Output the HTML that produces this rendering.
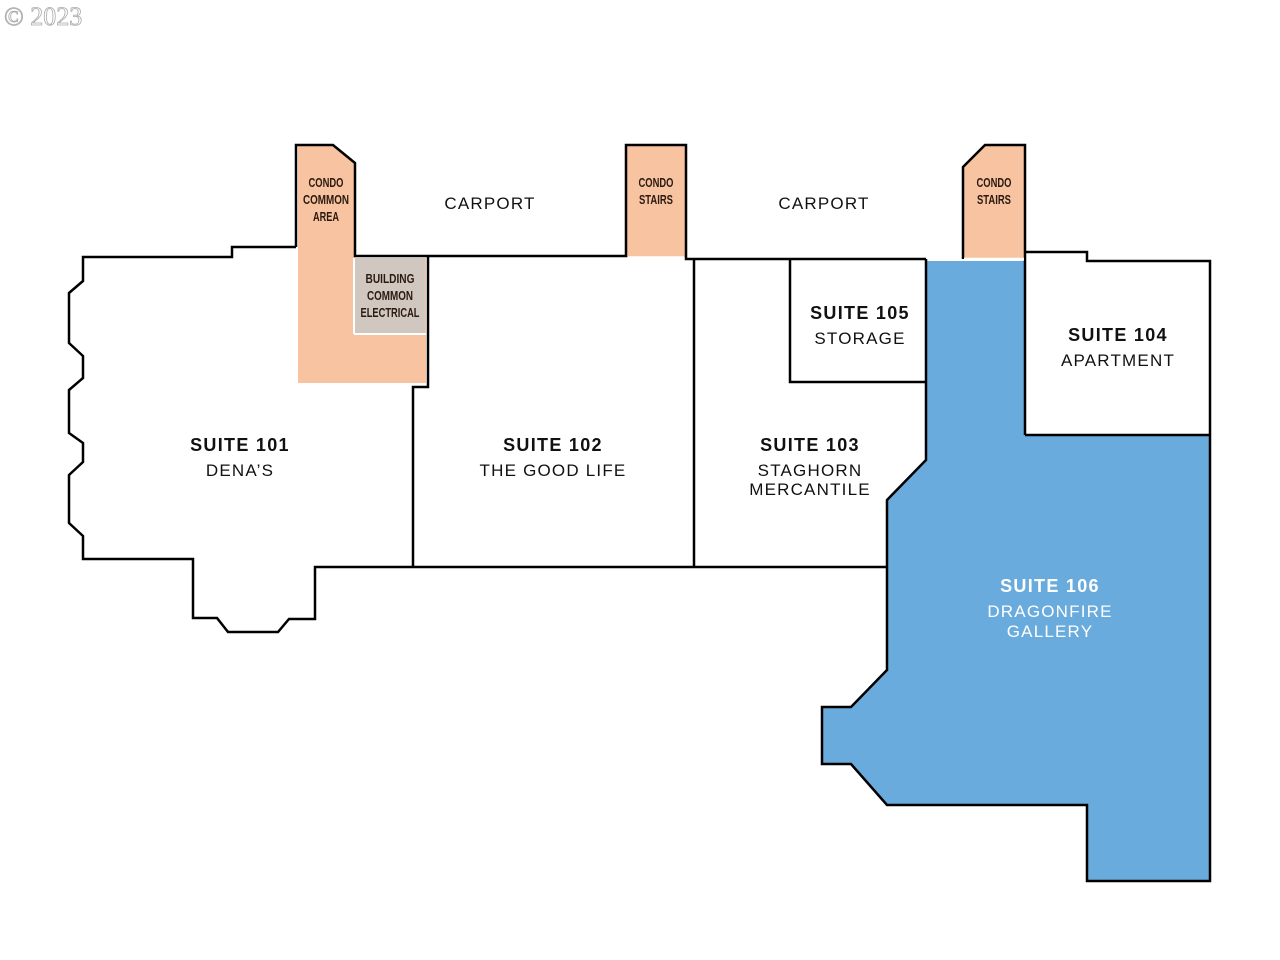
<!DOCTYPE html>
<html><head><meta charset="utf-8"><style>
html,body{margin:0;padding:0;background:#fff;width:1280px;height:960px;overflow:hidden}
svg{display:block}
.b{font-family:"Liberation Sans",sans-serif;font-weight:bold;font-size:18px;letter-spacing:1.3px;fill:#111;text-anchor:middle}
.r{font-family:"Liberation Sans",sans-serif;font-size:17px;letter-spacing:1.2px;fill:#111;text-anchor:middle}
.n{font-family:"Liberation Sans Narrow","Liberation Sans",sans-serif;font-size:13px;font-weight:bold;fill:#2a1a10;text-anchor:middle}
.w{fill:#fff}
</style></head><body>
<svg width="1280" height="960" viewBox="0 0 1280 960" xmlns="http://www.w3.org/2000/svg">
<text x="4" y="25" font-family="Liberation Serif,serif" font-size="26" fill="#fff" stroke="#aaa" stroke-width="0.8">© 2023</text>
<polygon points="298,145 333,145 355,163 355,258 426,258 426,383 298,383" fill="#f8c3a0"/>
<rect x="354" y="258" width="71" height="76" fill="#d0c8c0"/>
<line x1="354" y1="258" x2="354" y2="334" stroke="#fff" stroke-width="2"/>
<line x1="354" y1="334" x2="426" y2="334" stroke="#fff" stroke-width="2"/>
<rect x="626" y="145" width="60" height="112" fill="#f8c3a0"/>
<polygon points="963,167 985,145 1025,145 1025,258 963,258" fill="#f8c3a0"/>
<polygon points="926,261 1025,261 1025,435 1210,435 1210,881 1087,881 1087,805 887,805 851,764 822,764 822,707 851,707 887,670 887,500 926,460" fill="#6aabdd"/>
<g fill="none" stroke="#000" stroke-width="2.5" stroke-linejoin="miter">
<polyline points="296,247 232,247 232,257 83,257 83,281 69,293 69,343 83,356 83,378 69,390 69,433 83,443 83,462 69,475 69,523 83,536 83,559 193,559 193,618 217,618 228,632 278,632 289,619 315,619 315,567 887,567"/>
<polyline points="296,247 296,145 333,145 355,163 355,256 626,256 626,145 686,145 686,259 926,259"/>
<polyline points="428,256 428,387 413,387 413,567"/>
<line x1="694" y1="259" x2="694" y2="567"/>
<polyline points="790,259 790,382 926,382"/>
<polyline points="963,259 963,167 985,145 1025,145 1025,435"/>
<polyline points="926,259 926,460 887,500 887,670 851,707 822,707 822,764 851,764 887,805 1087,805 1087,881 1210,881 1210,261 1087,261 1087,252 1025,252"/>
<line x1="1025" y1="435" x2="1210" y2="435"/>
</g>
<line x1="964" y1="259" x2="1024" y2="259" stroke="#fff" stroke-width="2.5"/>
<line x1="628" y1="257" x2="684" y2="257" stroke="#fff" stroke-width="1.5"/>
<text class="n" x="326" y="187" textLength="35" lengthAdjust="spacingAndGlyphs">CONDO</text>
<text class="n" x="326" y="204" textLength="46" lengthAdjust="spacingAndGlyphs">COMMON</text>
<text class="n" x="326" y="221" textLength="26" lengthAdjust="spacingAndGlyphs">AREA</text>
<text class="n" x="390" y="283" textLength="49" lengthAdjust="spacingAndGlyphs">BUILDING</text>
<text class="n" x="390" y="300" textLength="46" lengthAdjust="spacingAndGlyphs">COMMON</text>
<text class="n" x="390" y="317" textLength="59" lengthAdjust="spacingAndGlyphs">ELECTRICAL</text>
<text class="n" x="656" y="187" textLength="35" lengthAdjust="spacingAndGlyphs">CONDO</text>
<text class="n" x="656" y="204" textLength="34" lengthAdjust="spacingAndGlyphs">STAIRS</text>
<text class="n" x="994" y="187" textLength="35" lengthAdjust="spacingAndGlyphs">CONDO</text>
<text class="n" x="994" y="204" textLength="34" lengthAdjust="spacingAndGlyphs">STAIRS</text>
<text class="r" x="490" y="209">CARPORT</text>
<text class="r" x="824" y="209">CARPORT</text>
<text class="b" x="240" y="451">SUITE 101</text>
<text class="r" x="240" y="476">DENA’S</text>
<text class="b" x="553" y="451">SUITE 102</text>
<text class="r" x="553" y="476">THE GOOD LIFE</text>
<text class="b" x="810" y="451">SUITE 103</text>
<text class="r" x="810" y="476">STAGHORN</text>
<text class="r" x="810" y="495">MERCANTILE</text>
<text class="b" x="860" y="319">SUITE 105</text>
<text class="r" x="860" y="344">STORAGE</text>
<text class="b" x="1118" y="341">SUITE 104</text>
<text class="r" x="1118" y="366">APARTMENT</text>
<text class="b w" x="1050" y="592">SUITE 106</text>
<text class="r w" x="1050" y="617">DRAGONFIRE</text>
<text class="r w" x="1050" y="637">GALLERY</text>
</svg>
</body></html>
